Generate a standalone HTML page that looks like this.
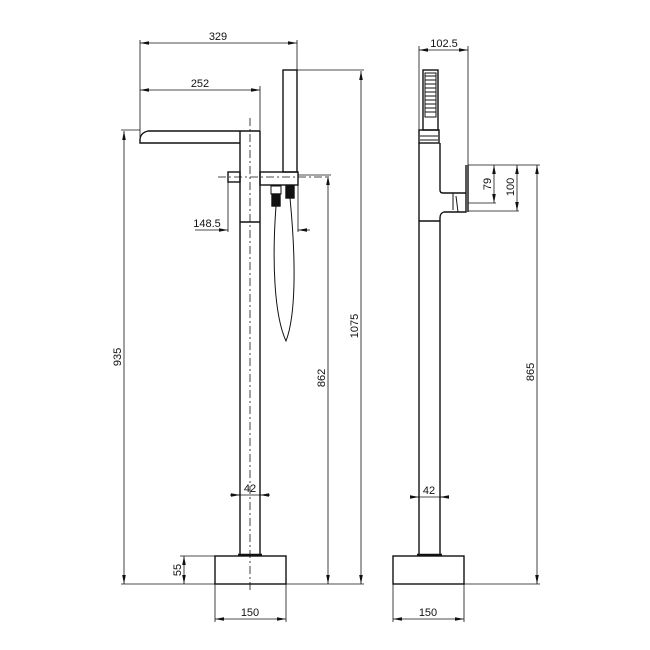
<!DOCTYPE html>
<html><head><style>
html,body{margin:0;padding:0;background:#fff;}
svg{display:block;}
text{font-family:"Liberation Sans",sans-serif;font-size:11px;fill:#111;}
</style></head><body>
<svg width="650" height="650" viewBox="0 0 650 650" xmlns="http://www.w3.org/2000/svg">
<defs>
<marker id="a" viewBox="0 0 10 4" refX="10" refY="2" markerWidth="9" markerHeight="4" orient="auto-start-reverse" markerUnits="userSpaceOnUse"><path d="M0,0 L10,2 L0,4 z" fill="#111"/></marker>
</defs>
<g stroke="#111" fill="none" stroke-width="0.8">
<line x1="140" y1="40" x2="140" y2="137"/>
<line x1="297" y1="40" x2="297" y2="70"/>
<line x1="260" y1="86" x2="260" y2="131"/>
<line x1="121" y1="130" x2="140" y2="130"/>
<line x1="297" y1="70" x2="364" y2="70"/>
<line x1="298" y1="175" x2="331" y2="175"/>
<line x1="121" y1="584" x2="364" y2="584"/>
<line x1="180" y1="556" x2="215" y2="556"/>
<line x1="228" y1="182" x2="228" y2="232"/>
<line x1="298" y1="185" x2="298" y2="232"/>
<line x1="215" y1="584" x2="215" y2="622"/>
<line x1="286" y1="584" x2="286" y2="622"/>
<line x1="140" y1="43" x2="297" y2="43" marker-start="url(#a)" marker-end="url(#a)"/>
<line x1="140" y1="90" x2="260" y2="90" marker-start="url(#a)" marker-end="url(#a)"/>
<line x1="124" y1="131" x2="124" y2="584" marker-start="url(#a)" marker-end="url(#a)"/>
<line x1="328" y1="176" x2="328" y2="584" marker-start="url(#a)" marker-end="url(#a)"/>
<line x1="361" y1="71" x2="361" y2="584" marker-start="url(#a)" marker-end="url(#a)"/>
<line x1="184" y1="556" x2="184" y2="584" marker-start="url(#a)" marker-end="url(#a)"/>
<line x1="215" y1="619" x2="286" y2="619" marker-start="url(#a)" marker-end="url(#a)"/>
<line x1="195" y1="230" x2="228" y2="230" marker-end="url(#a)"/>
<line x1="298" y1="230" x2="310" y2="230" marker-start="url(#a)"/>
<line x1="230" y1="495" x2="270" y2="495"/>
<line x1="230" y1="495" x2="240" y2="495" marker-end="url(#a)"/>
<line x1="270" y1="495" x2="260" y2="495" marker-end="url(#a)"/>
<line x1="250" y1="118" x2="250" y2="590" stroke-dasharray="8,3,2,3"/>
<line x1="218" y1="177" x2="330" y2="177" stroke-dasharray="8,3,2,3"/>
</g>
<g stroke="#111" fill="none" stroke-width="1.4">
<path d="M260,131 L148,131 Q140,133 140,140 L140,143 L240,143"/>
<path d="M240,131 L240,556 M260,131 L260,556 M240,222 L260,222"/>
<rect x="283" y="70" width="14" height="102"/>
<rect x="260" y="172" width="38" height="13"/>
<rect x="228" y="172" width="12" height="10"/>
<rect x="271" y="186" width="10" height="8" stroke-width="1"/>
<rect x="272" y="194" width="8" height="12" fill="#111"/>
<rect x="286" y="186" width="8" height="12" fill="#111"/>
<path d="M276,206 C272,260 274,315 286,341 C296,315 296,260 290,198" stroke-width="1"/>
<rect x="215" y="556" width="71" height="28"/>
<line x1="238" y1="555" x2="262" y2="555" stroke-width="2.5"/>
</g>
<g stroke="#111" fill="none" stroke-width="0.8">
<line x1="419" y1="46" x2="419" y2="130"/>
<line x1="468" y1="46" x2="468" y2="165"/>
<line x1="419" y1="50" x2="468" y2="50" marker-start="url(#a)" marker-end="url(#a)"/>
<line x1="468" y1="165" x2="540" y2="165"/>
<line x1="468" y1="203" x2="496" y2="203"/>
<line x1="468" y1="211" x2="519" y2="211"/>
<line x1="494" y1="165" x2="494" y2="203" marker-start="url(#a)" marker-end="url(#a)"/>
<line x1="517" y1="165" x2="517" y2="211" marker-start="url(#a)" marker-end="url(#a)"/>
<line x1="537" y1="165" x2="537" y2="584" marker-start="url(#a)" marker-end="url(#a)"/>
<line x1="464" y1="584" x2="540" y2="584"/>
<line x1="393" y1="584" x2="393" y2="622"/>
<line x1="464" y1="584" x2="464" y2="622"/>
<line x1="393" y1="619" x2="464" y2="619" marker-start="url(#a)" marker-end="url(#a)"/>
<line x1="410" y1="497" x2="449" y2="497"/>
<line x1="410" y1="497" x2="419" y2="497" marker-end="url(#a)"/>
<line x1="449" y1="497" x2="440" y2="497" marker-end="url(#a)"/>
</g>
<g stroke="#111" fill="none" stroke-width="1.4">
<rect x="423" y="70" width="15" height="60"/>
<g stroke-width="1">
<line x1="425" y1="76" x2="436" y2="76"/><line x1="425" y1="80" x2="436" y2="80"/>
<line x1="425" y1="84" x2="436" y2="84"/><line x1="425" y1="88" x2="436" y2="88"/>
<line x1="425" y1="92" x2="436" y2="92"/><line x1="425" y1="96" x2="436" y2="96"/>
<line x1="425" y1="100" x2="436" y2="100"/><line x1="425" y1="104" x2="436" y2="104"/>
<line x1="425" y1="108" x2="436" y2="108"/><line x1="425" y1="112" x2="436" y2="112"/>
<rect x="425" y="73" width="11" height="44"/>
<line x1="420" y1="136" x2="438" y2="136"/><line x1="420" y1="140" x2="438" y2="140"/>
</g>
<rect x="419" y="130" width="20" height="13"/>
<path d="M419,143 L419,556"/>
<path d="M440,143 L440,190 Q440,193 443,193 L466,193"/>
<path d="M466,165 L466,212 L444,212 Q440,213 440,218 L440,556"/>
<path d="M468,165 L468,212"/>
<path d="M419,221 L440,221"/>
<path d="M453,193 L453,210 M456,196 L458,212" stroke-width="1"/>
<rect x="393" y="556" width="71" height="28"/>
<line x1="417" y1="555" x2="442" y2="555" stroke-width="2.5"/>
</g>
<g>
<text x="218" y="40" text-anchor="middle">329</text>
<text x="200" y="87" text-anchor="middle">252</text>
<text x="207" y="227" text-anchor="middle">148.5</text>
<text x="250" y="492" text-anchor="middle">42</text>
<text x="250" y="616" text-anchor="middle">150</text>
<text x="444" y="47" text-anchor="middle">102.5</text>
<text x="429" y="494" text-anchor="middle">42</text>
<text x="428" y="616" text-anchor="middle">150</text>
<text transform="translate(121,357) rotate(-90)" text-anchor="middle">935</text>
<text transform="translate(325,378) rotate(-90)" text-anchor="middle">862</text>
<text transform="translate(358,326) rotate(-90)" text-anchor="middle">1075</text>
<text transform="translate(181,570) rotate(-90)" text-anchor="middle">55</text>
<text transform="translate(491,184) rotate(-90)" text-anchor="middle">79</text>
<text transform="translate(514,187) rotate(-90)" text-anchor="middle">100</text>
<text transform="translate(534,372) rotate(-90)" text-anchor="middle">865</text>
</g>
</svg>
</body></html>
